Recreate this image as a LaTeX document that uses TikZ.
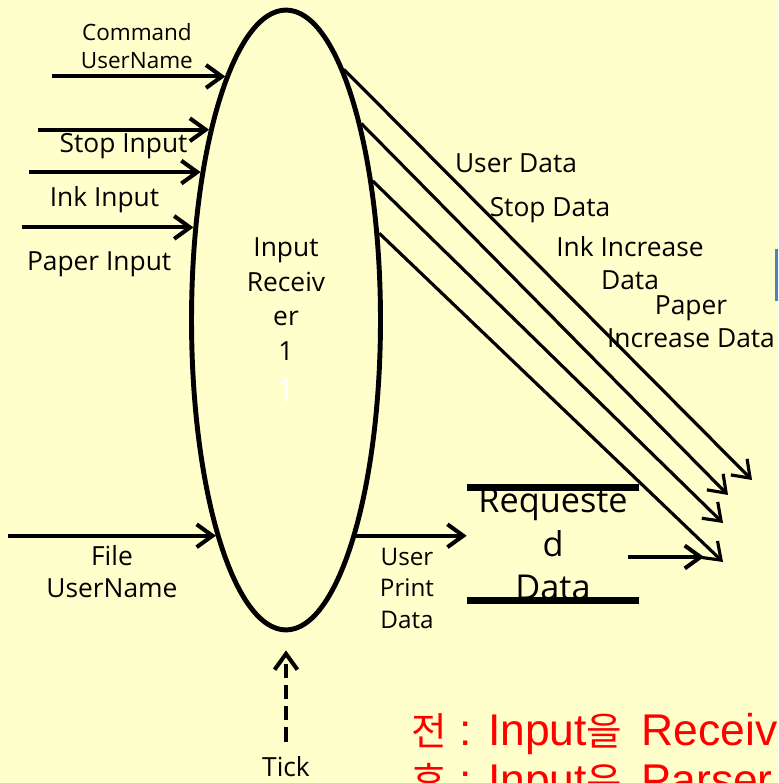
\documentclass[tikz,border=0pt]{standalone}
\usepackage{fontspec}
\setmainfont{Open Sans}
\newfontfamily\krfont{Noto Sans CJK KR}
\newfontfamily\notefont{Liberation Sans}
\usepackage{tikz}
\usetikzlibrary{calc}
\usetikzlibrary{positioning}
\usetikzlibrary{shapes.geometric}
\usetikzlibrary{arrows.meta}
\definecolor{bgyellow}{RGB}{255,255,204}
\definecolor{boxblue}{RGB}{79,129,189}
\definecolor{boxfill}{RGB}{220,230,242}
\newcommand{\hg}[1]{{\krfont\fontsize{22}{28}\selectfont #1}}

\begin{document}
\begin{tikzpicture}[x=0.02cm, y=-0.02cm,
		>={Straight Barb[length=9pt,width=13pt]},
		flow/.style={line width=2.3pt, ->},
		diag/.style={line width=1.8pt, ->},
		store/.style={line width=4pt},
		lbl/.style={font=\fontsize{15}{18.7}\selectfont, align=center, inner sep=0pt},
		small/.style={font=\fontsize{12.8}{16}\selectfont, align=center, inner sep=0pt},
		note/.style={font=\notefont\fontsize{25.3}{28}\selectfont, text=red, inner sep=0pt, anchor=base west}]
				\useasboundingbox (0,0) rectangle (778,783);
				\fill[bgyellow] (0,0) rectangle (778,783);
				\clip (0,0) rectangle (778,783);
				
				\node[ellipse, draw, line width=2.8pt, minimum width=3.78cm, minimum height=12.4cm, lbl, font=\fontsize{15}{19.8}\selectfont] (rcv) at (286,320) {Input\\Receiv\\er\\1\\[4pt]{\fontsize{19}{22}\selectfont\color{white}1}};
				\node[lbl, font=\fontsize{19.5}{25}\selectfont, minimum width=3.44cm, minimum height=2.22cm] (req) at (553,544) {Requeste\\d\\Data};
				\node[lbl] (tick) at (286,767) {Tick};
				
				\draw[store] (req.north west) -- (req.north east);
				\draw[store] (req.south west) -- (req.south east);
				
				\coordinate (cmdIn) at (52,77);
				\coordinate (stopIn) at (38,127);
				\coordinate (inkIn) at (29,173);
				\coordinate (paperIn) at (22,228);
				\coordinate (fileIn) at (8,539);
				\coordinate (reqOut) at (704,557);
				
				\draw[flow] (rcv.104 -| cmdIn) -- (rcv.104) node[small, pos=0.49, above=0.12cm] {Command\\UserName};
				\draw[flow] (rcv.112 -| stopIn) -- (rcv.112) node[lbl, midway, below=0.04cm] {Stop Input};
				\draw[flow] (rcv.120 -| inkIn) -- (rcv.120) node[lbl, pos=0.44, below=0.25cm] {Ink Input};
				\draw[flow] (rcv.135 -| paperIn) -- (rcv.135) node[lbl, pos=0.45, below=0.44cm] {Paper Input};
				\draw[flow] (rcv.252 -| fileIn) -- (rcv.252) node[lbl, font=\fontsize{15}{18}\selectfont, midway, below=0.16cm] {File\\UserName};
				\draw[flow] (rcv.288) -- (rcv.288 -| req.west) node[lbl, font=\fontsize{13.8}{18}\selectfont, pos=0.46, below=0.2cm] {User\\Print\\Data};
				\draw[flow] ($(req.east |- reqOut)+(-11,0)$) -- (reqOut);
				\draw[flow, dash pattern=on 8pt off 4pt] ([yshift=0.3cm]tick.north) -- ([yshift=-0.36cm]rcv.south);
				
				\coordinate (userEnd) at (752,480);
				\coordinate (stopEnd) at (728,495);
				\coordinate (inkEnd) at (723,523);
				\coordinate (paperEnd) at (723,562);
				
				\draw[diag] (rcv.77) -- (userEnd);
				\draw[diag] (rcv.69) -- (stopEnd);
				\draw[diag] (rcv.58) -- (inkEnd);
				\draw[diag] (rcv.43) -- (paperEnd);
				
				\node[lbl] (userLbl) at (516,163) {User Data};
				\node[lbl] (stopLbl) at (550,210) {Stop Data};
				\node[lbl] (inkLbl) at (630,263) {Ink Increase\\Data};
				\node[lbl] (paperLbl) at (691,322) {Paper\\Increase Data};
				
				\draw[boxblue, fill=boxfill, line width=1.2pt] (776.5,250) rectangle (800,300);
				
				\node[note] (before) at (411,745) {\hg{전} : Input\hg{을}\hspace{4pt} Receiver};
				\node[note] (after) at (411,795) {\hg{후} : Input\hg{은}\hspace{4pt} Parser};
\end{tikzpicture}
\end{document}
